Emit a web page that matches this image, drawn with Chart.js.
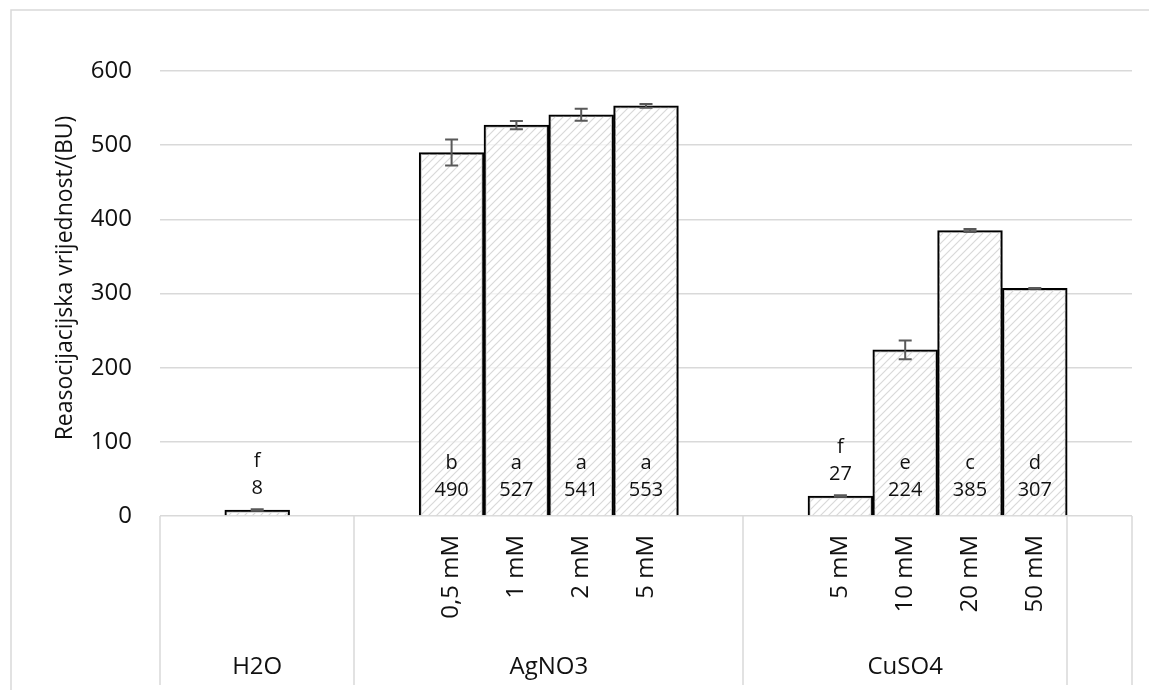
<!DOCTYPE html>
<html lang="hr">
<head>
<meta charset="UTF-8">
<title>Reasocijacijska vrijednost</title>
<script src="https://cdn.jsdelivr.net/npm/chart.js@4.4.1/dist/chart.umd.min.js"></script>
<style>
  body { margin: 0; background: #fff; }
  #wrap { width: 1149px; height: 690px; }
</style>
</head>
<body>
<div id="wrap"><canvas id="myChart" width="1149" height="690"></canvas></div>
<script>
// podaci (prazna mjesta su razmaci izmedu grupa)
const subLabels = ['', '', '', '', '0,5 mM', '1 mM', '2 mM', '5 mM', '', '', '5 mM', '10 mM', '20 mM', '50 mM', ''];
const values    = [null, 8, null, null, 490, 527, 541, 553, null, null, 27, 224, 385, 307, null];
const errors    = [null, 1, null, null, 17.5, 5.5, 8, 2.5, null, null, 1, 12.5, 2, 0.5, null];
const letters   = ['', 'f', '', '', 'b', 'a', 'a', 'a', '', '', 'f', 'e', 'c', 'd', ''];
const groupNames = ['H2O', 'AgNO3', 'CuSO4'];
const groupStart = [0, 3, 9];
const groupEnd   = [2, 8, 13];
const yTicks = [0, 100, 200, 300, 400, 500, 600];
const yTitle = 'Reasocijacijska vrijednost/(BU)';

const FONT = '"Open Sans", "Noto Sans", sans-serif';
const TEXT = '#111';
const GRID = '#d9d9d9';

// srafura za stupce
function makeHatch() {
  const s = 8;
  const c = document.createElement('canvas');
  c.width = s; c.height = s;
  const g = c.getContext('2d');
  g.fillStyle = 'rgba(255,255,255,0.7)';
  g.fillRect(0, 0, s, s);
  g.strokeStyle = '#d9d9d9';
  g.lineWidth = 1.2;
  g.beginPath();
  g.moveTo(0, s); g.lineTo(s, 0);
  g.moveTo(-s / 2, s / 2); g.lineTo(s / 2, -s / 2);
  g.moveTo(s / 2, s * 1.5); g.lineTo(s * 1.5, s / 2);
  g.stroke();
  return g.createPattern(c, 'repeat');
}

const extras = {
  id: 'extras',
  afterDraw(chart) {
    const { ctx, chartArea } = chart;
    const x = chart.scales.x, y = chart.scales.y;
    const y0 = y.getPixelForValue(0);
    const half = (x.getPixelForValue(1) - x.getPixelForValue(0)) / 2;
    ctx.save();

    // okvir
    ctx.strokeStyle = GRID;
    ctx.lineWidth = 1.5;
    ctx.strokeRect(11, 10, 1300, 900);

    // error bars
    ctx.strokeStyle = '#595959';
    ctx.lineWidth = 2;
    values.forEach((v, i) => {
      if (v === null) return;
      const cx = x.getPixelForValue(i);
      const yt = y.getPixelForValue(v + errors[i]);
      const yb = y.getPixelForValue(v - errors[i]);
      ctx.beginPath();
      ctx.moveTo(cx, yt); ctx.lineTo(cx, yb);
      ctx.moveTo(cx - 6.5, yt); ctx.lineTo(cx + 6.5, yt);
      ctx.moveTo(cx - 6.5, yb); ctx.lineTo(cx + 6.5, yb);
      ctx.stroke();
    });

    // oznake u stupcima (niski stupci: iznad vrha)
    ctx.fillStyle = TEXT;
    ctx.font = '20px ' + FONT;
    ctx.textAlign = 'center';
    ctx.textBaseline = 'middle';
    values.forEach((v, i) => {
      if (v === null) return;
      const cx = x.getPixelForValue(i);
      const top = y.getPixelForValue(v);
      const ly = (y0 - top < 50) ? top - 22 : y0 - 26;
      ctx.fillText(letters[i], cx, ly - 27);
      ctx.fillText(String(v), cx, ly);
    });

    // x oznake (okomite)
    ctx.font = '24px ' + FONT;
    subLabels.forEach((t, i) => {
      if (!t) return;
      ctx.save();
      ctx.translate(x.getPixelForValue(i), y0 + 19);
      ctx.rotate(-Math.PI / 2);
      ctx.textAlign = 'right';
      ctx.fillText(t, 0, 0);
      ctx.restore();
    });

    // grupe
    ctx.strokeStyle = GRID;
    ctx.lineWidth = 1.5;
    const seps = new Set();
    groupNames.forEach((g, k) => {
      const l = x.getPixelForValue(groupStart[k]) - half;
      const r = x.getPixelForValue(groupEnd[k]) + half;
      seps.add(Math.round(l)); seps.add(Math.round(r));
      ctx.fillText(g, (l + r) / 2, y0 + 151);
    });
    seps.add(Math.round(chartArea.right));
    seps.forEach(px => {
      ctx.beginPath();
      ctx.moveTo(px, y0);
      ctx.lineTo(px, y0 + 169);
      ctx.stroke();
    });

    // naslov y osi
    ctx.save();
    ctx.translate(65, 278);
    ctx.rotate(-Math.PI / 2);
    ctx.font = '23px ' + FONT;
    ctx.fillText(yTitle, 0, 0);
    ctx.restore();

    ctx.restore();
  }
};

const ctx = document.getElementById('myChart').getContext('2d');
const myChart = new Chart(ctx, {
  type: 'bar',
  data: {
    labels: subLabels.map((t, i) => t || ' ' + i),
    datasets: [{
      data: values,
      backgroundColor: makeHatch(),
      borderColor: '#000',
      borderWidth: 2,
      barPercentage: 1,
      categoryPercentage: 1
    }]
  },
  options: {
    responsive: false,
    animation: false,
    devicePixelRatio: 1,
    layout: { padding: { top: 71, right: 17, left: 0, bottom: 0 } },
    plugins: { legend: { display: false }, tooltip: { enabled: false } },
    scales: {
      x: {
        grid: { display: false },
        border: { display: false },
        ticks: { display: false },
        afterFit: s => { s.height = 174; }
      },
      y: {
        min: 0,
        max: 600,
        afterBuildTicks: s => { s.ticks = yTicks.map(v => ({ value: v })); },
        grid: { color: GRID, lineWidth: 1.5, drawTicks: false },
        border: { display: false },
        ticks: { color: TEXT, font: { family: FONT, size: 24 }, padding: 28 },
        afterFit: s => { s.width = 160; }
      }
    }
  },
  plugins: [extras]
});
</script>
</body>
</html>
